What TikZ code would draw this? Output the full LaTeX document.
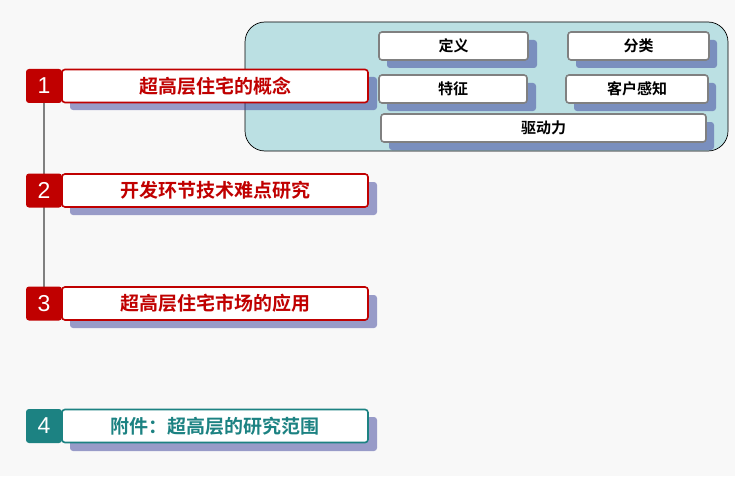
\documentclass[tikz,border=0pt]{standalone}
\usepackage{fontspec}
\setmainfont{Liberation Sans}
\newfontfamily\cjk{Noto Sans CJK SC}[BoldFont={Noto Sans CJK SC Bold}]
\definecolor{bgc}{HTML}{F8F8F8}
\definecolor{dred}{HTML}{C00000}
\definecolor{dteal}{HTML}{1C8282}
\definecolor{contc}{HTML}{BBE0E3}
\definecolor{shc}{HTML}{3A3F9A}
\definecolor{grayb}{HTML}{808080}
\tikzset{
  numbox/.style={rectangle,rounded corners=3pt,minimum width=36pt,minimum height=34pt,inner sep=0pt,text=white,font=\fontsize{23}{23}\selectfont},
  mainbox/.style={rectangle,rounded corners=3pt,draw=#1,line width=1.6pt,fill=white,minimum width=306pt,minimum height=33pt,inner sep=0pt,text=#1,font=\cjk\bfseries\fontsize{19}{19}\selectfont},
  subbox/.style={rectangle,rounded corners=3pt,draw=grayb,line width=1.6pt,fill=white,minimum height=28pt,inner sep=0pt,text=black,font=\cjk\bfseries\fontsize{15}{15}\selectfont},
  shadowbox/.style={fill=shc,fill opacity=0.5,rounded corners=3pt},
}
\begin{document}
\begin{tikzpicture}[x=1pt,y=-1pt]
\fill[bgc] (0,0) rectangle (735,476);
\useasboundingbox (0,0) rectangle (735,476);
% container
\node[draw=black,line width=0.7pt,fill=contc,rounded corners=20pt,minimum width=483pt,minimum height=129pt,inner sep=0pt] (cont) at (486.5,86.5) {};
% shadows for sub boxes
\fill[shadowbox] (387,40) rectangle (537,68);
\fill[shadowbox] (576,40) rectangle (717,68);
\fill[shadowbox] (387,83) rectangle (536,111);
\fill[shadowbox] (574,83) rectangle (716,111);
\fill[shadowbox] (389,122) rectangle (714,150);
% sub boxes
\node[subbox,minimum width=149pt] (dy) at (453.5,46) {定义};
\node[subbox,minimum width=141pt] (fl) at (638.5,46) {分类};
\node[subbox,minimum width=148pt] (tz) at (453,89) {特征};
\node[subbox,minimum width=142pt] (kh) at (637,89) {客户感知};
\node[subbox,minimum width=325pt] (qd) at (543.5,128) {驱动力};
% main shadows
\fill[shadowbox] (70,77) rectangle (377,110);
\fill[shadowbox] (70,182) rectangle (377,215);
\fill[shadowbox] (70,295) rectangle (377,328);
\fill[shadowbox] (70,417) rectangle (377,451);
% connector line (behind number boxes)
\coordinate (ltop) at (44,103);
\coordinate (lbot) at (44,287);
\draw[grayb,line width=1.2pt] (ltop) -- (lbot);
% numbers
\node[numbox,fill=dred] (n1) at (44,86) {1};
\node[numbox,fill=dred] (n2) at (44,190.5) {2};
\node[numbox,fill=dred] (n3) at (44,303.5) {3};
\node[numbox,fill=dteal] (n4) at (44,426) {4};
% main boxes
\node[mainbox=dred] (m1) at (215,86) {超高层住宅的概念};
\node[mainbox=dred] (m2) at (215,190.5) {开发环节技术难点研究};
\node[mainbox=dred] (m3) at (215,303.5) {超高层住宅市场的应用};
\node[mainbox=dteal] (m4) at (215,426) {附件：超高层的研究范围};
\end{tikzpicture}
\end{document}
